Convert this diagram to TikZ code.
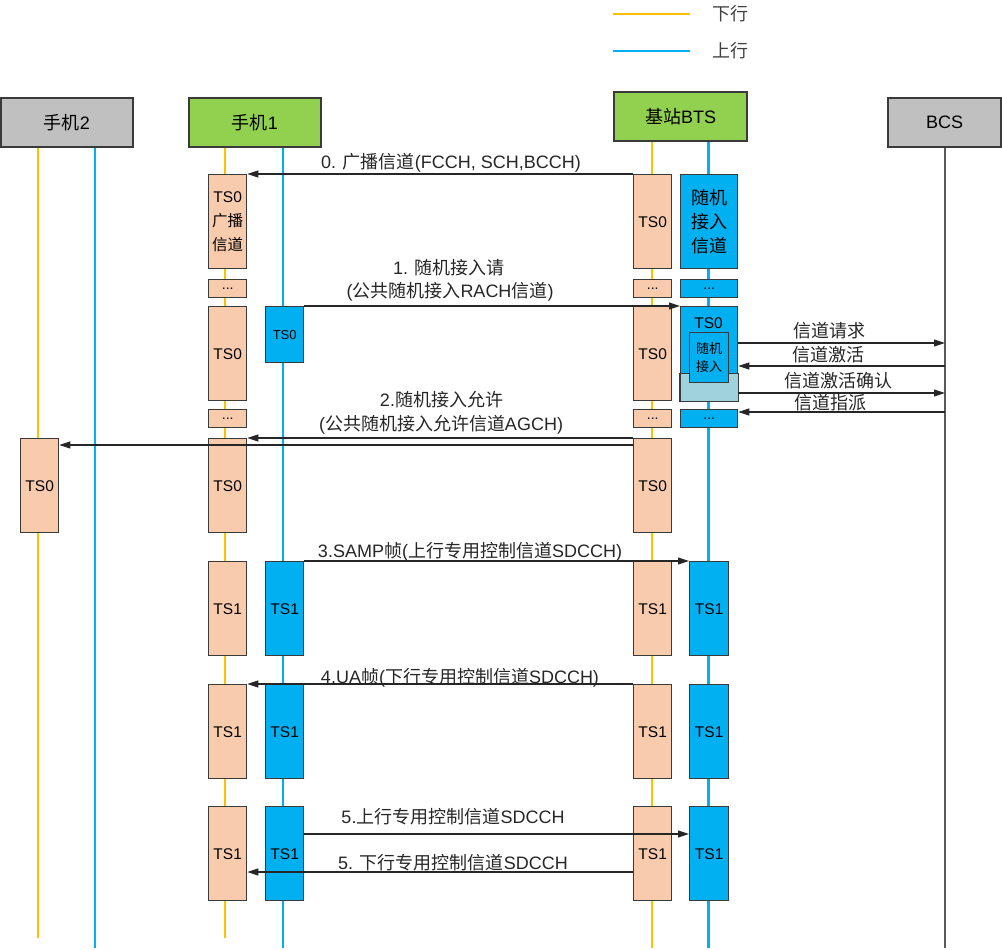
\documentclass[tikz,border=0pt]{standalone}
\usepackage{fontspec}
\setmainfont{Liberation Sans}
\newfontfamily\cjk{Noto Sans CJK SC}
\usetikzlibrary{arrows.meta}

\definecolor{peach}{HTML}{F8CBAD}
\definecolor{upblue}{HTML}{00B0F0}
\definecolor{downorange}{HTML}{FFC000}
\definecolor{hdrgreen}{HTML}{92D050}
\definecolor{hdrgray}{HTML}{C0C0C0}
\definecolor{paleblue}{HTML}{A0D2DC}
\definecolor{rim}{HTML}{3A3A3A}

\tikzset{
  hdr/.style={draw=rim, line width=1.4pt, minimum width=132pt, minimum height=49pt, inner sep=0pt, font=\fontsize{18}{22}\selectfont},
  slot/.style={draw=rim, line width=1.4pt, fill=peach, minimum width=38pt, minimum height=94pt, inner sep=0pt, anchor=north west, align=center, font=\fontsize{15.5}{24}\selectfont},
  uslot/.style={slot, fill=upblue},
  dotslot/.style={slot, minimum height=18pt, font=\fontsize{14}{14}\selectfont},
  dl/.style={draw=downorange, line width=2.8pt},
  ul/.style={draw=upblue, line width=2.8pt},
  msg/.style={draw=black!85, line width=1.1pt, -{Triangle[length=11pt,width=7pt]}},
  lbl/.style={font=\fontsize{18}{22}\selectfont, text=black!85, inner sep=0pt, anchor=base},
}

\begin{document}
\begin{tikzpicture}[x=1pt,y=-1pt]
\useasboundingbox (0,0) rectangle (1002,950);

% legend
\draw[dl] (613,14) -- (690,14);
\node[font=\cjk\fontsize{18}{22}\selectfont, text=black!75, inner sep=0pt] (lgdown) at (730,14) {下行};
\draw[ul] (613,51) -- (690,51);
\node[font=\cjk\fontsize{18}{22}\selectfont, text=black!75, inner sep=0pt] (lgup) at (730,51) {上行};

% heads
\node[hdr, fill=hdrgray] (p2) at (67,122.5) {{\cjk 手机}2};
\node[hdr, fill=hdrgreen] (p1) at (255,122.5) {{\cjk 手机}1};
\node[hdr, fill=hdrgreen, minimum width=133pt] (bts) at (680.5,116.5) {{\cjk 基站}BTS};
\node[hdr, fill=hdrgray, minimum width=113pt] (bcs) at (944.5,122.5) {BCS};

% lifelines
\coordinate (e2o) at (38,938);
\coordinate (e2u) at (95,948);
\coordinate (e1o) at (225,938);
\coordinate (e1u) at (283,948);
\coordinate (ebo) at (652,948);
\coordinate (ebu) at (708.5,948);
\coordinate (ecs) at (945,948);
\draw[dl] (p2.south -| e2o) -- (e2o);
\draw[ul] (p2.south -| e2u) -- (e2u);
\draw[dl] (p1.south -| e1o) -- (e1o);
\draw[ul] (p1.south -| e1u) -- (e1u);
\draw[dl] (bts.south -| ebo) -- (ebo);
\draw[ul] (bts.south -| ebu) -- (ebu);
\draw[draw=black!65, line width=1.5pt] (bcs.south -| ecs) -- (ecs);

% time slots
\node[slot] (p2s) at (20,438) {TS0};
\node[slot] (p1o0) at (208,174) {TS0\\{\cjk 广播}\\{\cjk 信道}};
\foreach \y/\t [count=\i] in {306/TS0,438/TS0,561/TS1,684/TS1,806/TS1}
  \node[slot] (p1o\i) at (208,\y) {\t};
\foreach \y/\t [count=\i from 0] in {174/TS0,306/TS0,438/TS0,561/TS1,684/TS1,806/TS1}
  \node[slot] (bo\i) at (633,\y) {\t};
\foreach \y [count=\i] in {279,409} {
  \node[dotslot] (p1x\i) at (208,\y) {...};
  \node[dotslot] (box\i) at (633,\y) {...};
  \node[dotslot, fill=upblue, minimum width=57pt] (bux\i) at (680,\y) {...};
}
\node[uslot, minimum height=56pt, font=\fontsize{13}{16}\selectfont] (p1u0) at (265,306) {TS0};
\foreach \y [count=\i] in {561,684,806} {
  \node[uslot] (p1u\i) at (265,\y) {TS1};
  \node[uslot, minimum width=39pt] (bu\i) at (689,\y) {TS1};
}
\node[uslot, minimum width=57pt, font=\cjk\fontsize{18}{24}\selectfont] (bu0) at (680,174) {随机\\接入\\信道};
% random access slot
\node[uslot, minimum width=57pt] (bbig) at (680,306) {};
\draw[draw=rim, line width=1.4pt, fill=paleblue] (bbig.south west) rectangle ([yshift=28pt]bbig.south east);
\node[font=\fontsize{15.5}{18}\selectfont, inner sep=0pt] (bts0) at (708.5,323) {TS0};
\node[uslot, minimum width=39pt, minimum height=50pt, font=\cjk\fontsize{13}{18}\selectfont] (bin) at (689,332) {随机\\接入};

% 0
\draw[msg] (bo0.north west) -- (p1o0.north east);
\node[lbl] (m0) at (451,168) {0. {\cjk 广播信道}(FCCH, SCH,BCCH)};
% 1
\draw[msg] (p1u0.north east) -- (bbig.north west);
\node[lbl] (m1a) at (449,274) {1. {\cjk 随机接入请}};
\node[lbl] (m1b) at (450,297.5) {({\cjk 公共随机接入}RACH{\cjk 信道})};
% BTS - BCS
\draw[msg] (bbig.east |- 0,343) -- (ecs |- 0,343);
\node[lbl] (r1) at (829.5,337.7) {\cjk 信道请求};
\draw[msg] (ecs |- 0,366) -- (bbig.east |- 0,366);
\node[lbl] (r2) at (828.5,361.5) {\cjk 信道激活};
\draw[msg] (bbig.east |- 0,393) -- (ecs |- 0,393);
\node[lbl] (r3) at (838,387) {\cjk 信道激活确认};
\draw[msg] (ecs |- 0,412) -- (bux2.east |- 0,412);
\node[lbl] (r4) at (830.5,409) {\cjk 信道指派};
% 2
\draw[msg] (bo2.north west) -- (p1o2.north east);
\draw[msg] ([yshift=-7pt]bo2.north west) -- ([yshift=-7pt]p2s.north east);
\node[lbl] (m2a) at (441.5,406.7) {2.{\cjk 随机接入允许}};
\node[lbl] (m2b) at (441,430) {({\cjk 公共随机接入允许信道}AGCH)};
% 3
\draw[msg] (p1u1.north east) -- (bu1.north west);
\node[lbl] (m3) at (470,557) {3.SAMP{\cjk 帧}({\cjk 上行专用控制信道}SDCCH)};
% 4
\draw[msg] (bo4.north west) -- (p1o4.north east);
\node[lbl] (m4) at (460,683) {4.UA{\cjk 帧}({\cjk 下行专用控制信道}SDCCH)};
% 5
\draw[msg] ([yshift=-28pt]p1u3.north east) -- ([yshift=-28pt]bu3.north west);
\node[lbl] (m5a) at (453,823) {5.{\cjk 上行专用控制信道}SDCCH};
\draw[msg] ([yshift=-66pt]bo5.north west) -- ([yshift=-66pt]p1o5.north east);
\node[lbl] (m5b) at (453,869) {5. {\cjk 下行专用控制信道}SDCCH};
\end{tikzpicture}
\end{document}
